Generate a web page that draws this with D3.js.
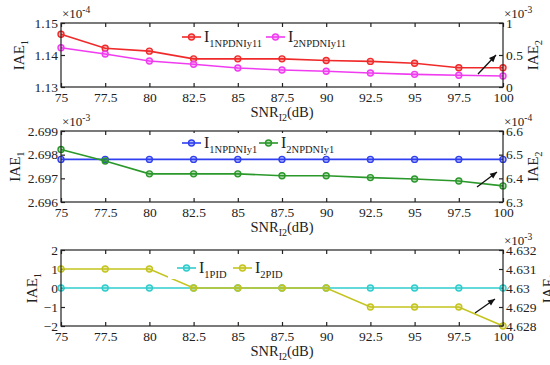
<!DOCTYPE html>
<html>
<head>
<meta charset="utf-8">
<script src="https://cdn.jsdelivr.net/npm/d3@7"></script>
<style>
  html, body { margin: 0; padding: 0; background: #fff; }
  svg { display: block; }
  text { font-family: "Liberation Serif", "Times New Roman", serif; fill: #222; }
</style>
</head>
<body>
<svg id="chart" width="550" height="365"></svg>
<script>
// SNR of the I2 measurement (dB)
const snr = [75, 77.5, 80, 82.5, 85, 87.5, 90, 92.5, 95, 97.5, 100];
const xTickLabels = ["75", "77.5", "80", "82.5", "85", "87.5", "90", "92.5", "95", "97.5", "100"];

// NPDNI controller, y11 loop: IAE1 (x1e-4) and IAE2 (x1e-3)
const iae1NPDNIy11 = [1.1465, 1.1421, 1.1412, 1.1388, 1.1388, 1.1388, 1.1383, 1.1380, 1.1374, 1.1360, 1.1360];
const iae2NPDNIy11 = [0.614, 0.516, 0.406, 0.355, 0.297, 0.266, 0.245, 0.219, 0.198, 0.183, 0.172];
const p1LeftTicks = [1.13, 1.14, 1.15];
const p1RightTicks = [0, 0.5, 1];

// NPDNI controller, y1 loop: IAE1 (x1e-3) and IAE2 (x1e-4)
const iae1NPDNIy1 = [2.6978, 2.6978, 2.6978, 2.6978, 2.6978, 2.6978, 2.6978, 2.6978, 2.6978, 2.6978, 2.6978];
const iae2NPDNIy1 = [6.522, 6.473, 6.419, 6.419, 6.419, 6.411, 6.411, 6.403, 6.397, 6.389, 6.368];
const p2LeftTicks = [2.696, 2.697, 2.698, 2.699];
const p2RightTicks = [6.3, 6.4, 6.5, 6.6];

// PID controller: IAE1 and IAE2 (x1e-3)
const iae1PID = [0, 0, 0, 0, 0, 0, 0, 0, 0, 0, 0];
const iae2PID = [4.631, 4.631, 4.631, 4.630, 4.630, 4.630, 4.630, 4.629, 4.629, 4.629, 4.628];
const p3LeftTicks = [-2, -1, 0, 1, 2];
const p3RightTicks = [4.628, 4.629, 4.630, 4.631, 4.632];
const p3RightLabels = ["4.628", "4.629", "4.63", "4.631", "4.632"];

const svg = d3.select("#chart");
const X0 = 61, X1 = 503;
const x = d3.scaleLinear().domain([75, 100]).range([X0, X1]);

const panels = [
  {
    top: 23, bottom: 87,
    left: { dom: [1.13, 1.15], ticks: p1LeftTicks, fmt: d3.format(".2f"), exp: "-4" },
    right: { dom: [0, 1], ticks: p1RightTicks, labels: ["0", "0.5", "1"], exp: "-3" },
    s1: { vals: iae1NPDNIy11, color: "#f02a2a", sub: "1NPDNIy11" },
    s2: { vals: iae2NPDNIy11, color: "#f03cf0", sub: "2NPDNIy11" },
    leg: { x: 182, y: 37, gap: 84, box: [172, 27, 180, 21] },
    arrow: [[478, 74], [496, 55]],
    y1labelX: 19, y2labelX: 533
  },
  {
    top: 131, bottom: 202,
    left: { dom: [2.696, 2.699], ticks: p2LeftTicks, fmt: d3.format(".3f"), exp: "-3" },
    right: { dom: [6.3, 6.6], ticks: p2RightTicks, labels: ["6.3", "6.4", "6.5", "6.6"], exp: "-4" },
    s1: { vals: iae1NPDNIy1, color: "#3040f0", sub: "1NPDNIy1" },
    s2: { vals: iae2NPDNIy1, color: "#2a982a", sub: "2NPDNIy1" },
    leg: { x: 182, y: 143, gap: 77, box: [172, 133, 172, 20] },
    arrow: [[477, 187], [497, 172]],
    y1labelX: 15, y2labelX: 533
  },
  {
    top: 250, bottom: 326,
    left: { dom: [-2, 2], ticks: p3LeftTicks, fmt: d3.format("d"), exp: null },
    right: { dom: [4.628, 4.632], ticks: p3RightTicks, labels: p3RightLabels, exp: "-3" },
    s1: { vals: iae1PID, color: "#30cccc", sub: "1PID" },
    s2: { vals: iae2PID, color: "#c4c41e", sub: "2PID" },
    leg: { x: 177, y: 268, gap: 56, box: [168, 257, 122, 22] },
    arrow: [[475, 313], [495, 299]],
    y1labelX: 32, y2labelX: 548
  }
];

const TICK = 4;

panels.forEach(p => {
  const g = svg.append("g");
  const yL = d3.scaleLinear().domain(p.left.dom).range([p.bottom, p.top]);
  const yR = d3.scaleLinear().domain(p.right.dom).range([p.bottom, p.top]);

  // bottom axis (inward ticks) and matching top ticks
  const xb = g.append("g").attr("transform", `translate(0,${p.bottom})`)
    .call(d3.axisBottom(x).tickValues(snr).tickFormat((d, i) => xTickLabels[i]).tickSizeInner(-TICK).tickSizeOuter(0).tickPadding(5));
  const xt = g.append("g").attr("transform", `translate(0,${p.top})`)
    .call(d3.axisTop(x).tickValues(snr).tickFormat("").tickSizeInner(-TICK).tickSizeOuter(0));

  const yl = g.append("g").attr("transform", `translate(${X0},0)`)
    .call(d3.axisLeft(yL).tickValues(p.left.ticks).tickFormat(p.left.fmt).tickSizeInner(-TICK).tickSizeOuter(0).tickPadding(3));
  const yr = g.append("g").attr("transform", `translate(${X1},0)`)
    .call(d3.axisRight(yR).tickValues(p.right.ticks).tickFormat((d, i) => p.right.labels[i]).tickSizeInner(-TICK).tickSizeOuter(0).tickPadding(3));

  [xb, xt, yl, yr].forEach(a => {
    a.selectAll(".domain").remove();
    a.selectAll(".tick line").attr("stroke", "#222").attr("stroke-width", 1.2);
    a.selectAll("text").style("font-size", "13.5px").attr("fill", "#222");
  });

  // series lines with open-ish circle markers
  const line1 = d3.line().x((d, i) => x(snr[i])).y(d => yL(d));
  const line2 = d3.line().x((d, i) => x(snr[i])).y(d => yR(d));

  const series = [
    { vals: p.s1.vals, color: p.s1.color, gen: line1, ys: yL },
    { vals: p.s2.vals, color: p.s2.color, gen: line2, ys: yR }
  ];
  series.forEach(s => {
    g.append("path").datum(s.vals).attr("d", s.gen)
      .attr("fill", "none").attr("stroke", s.color).attr("stroke-width", 1.6);
    g.selectAll(null).data(s.vals).enter().append("circle")
      .attr("cx", (d, i) => x(snr[i])).attr("cy", d => s.ys(d)).attr("r", 3)
      .attr("fill", s.color).attr("fill-opacity", 0.35)
      .attr("stroke", s.color).attr("stroke-width", 1.4);
  });

  // legend on a white background
  const L = p.leg;
  g.append("rect").attr("x", L.box[0]).attr("y", L.box[1]).attr("width", L.box[2]).attr("height", L.box[3]).attr("fill", "#fff");
  [p.s1, p.s2].forEach((s, k) => {
    const lx = L.x + k * L.gap;
    g.append("line").attr("x1", lx).attr("x2", lx + 19).attr("y1", L.y).attr("y2", L.y)
      .attr("stroke", s.color).attr("stroke-width", 1.6);
    g.append("circle").attr("cx", lx + 9.5).attr("cy", L.y).attr("r", 3)
      .attr("fill", s.color).attr("fill-opacity", 0.35).attr("stroke", s.color).attr("stroke-width", 1.4);
    const t = g.append("text").attr("x", lx + 22).attr("y", L.y + 5).style("font-size", "16px");
    t.append("tspan").text("I");
    t.append("tspan").attr("dy", 5).style("font-size", "10.5px").text(s.sub);
  });

  // arrow pointing toward the IAE2 axis
  const [a0, a1] = p.arrow;
  g.append("line").attr("x1", a0[0]).attr("y1", a0[1]).attr("x2", a1[0]).attr("y2", a1[1])
    .attr("stroke", "#111").attr("stroke-width", 1.3);
  const ang = Math.atan2(a1[1] - a0[1], a1[0] - a0[0]);
  const hl = 7, hw = 3;
  const hx = a1[0] - hl * Math.cos(ang), hy = a1[1] - hl * Math.sin(ang);
  g.append("path")
    .attr("d", `M${a1[0]},${a1[1]} L${hx + hw * Math.sin(ang)},${hy - hw * Math.cos(ang)} L${hx - hw * Math.sin(ang)},${hy + hw * Math.cos(ang)} Z`)
    .attr("fill", "#111");

  // frame
  g.append("rect").attr("x", X0).attr("y", p.top).attr("width", X1 - X0).attr("height", p.bottom - p.top)
    .attr("fill", "none").attr("stroke", "#222").attr("stroke-width", 1.2);

  // exponent multipliers
  const expLabel = (xx, e) => {
    const t = g.append("text").attr("x", xx).attr("y", p.top - 5).style("font-size", "13px");
    t.append("tspan").text("\u00d710");
    t.append("tspan").attr("dy", -5).style("font-size", "9.5px").text(e);
  };
  if (p.left.exp) expLabel(X0 + 1, p.left.exp);
  if (p.right.exp) expLabel(X1 + 1, p.right.exp);

  // x-axis title
  const xt2 = g.append("text").attr("x", (X0 + X1) / 2).attr("y", p.bottom + 30)
    .attr("text-anchor", "middle").style("font-size", "14.5px");
  xt2.append("tspan").text("SNR");
  xt2.append("tspan").attr("dy", 4).style("font-size", "10px").text("I2");
  xt2.append("tspan").attr("dy", -4).text("(dB)");

  // y-axis titles
  const ym = (p.top + p.bottom) / 2;
  const yt1 = g.append("text").attr("transform", `translate(${p.y1labelX + 5},${ym}) rotate(-90)`)
    .attr("text-anchor", "middle").style("font-size", "15px");
  yt1.append("tspan").text("IAE");
  yt1.append("tspan").attr("dy", 4).style("font-size", "10.5px").text("1");
  const yt2 = g.append("text").attr("transform", `translate(${p.y2labelX + 5},${ym}) rotate(-90)`)
    .attr("text-anchor", "middle").style("font-size", "15px");
  yt2.append("tspan").text("IAE");
  yt2.append("tspan").attr("dy", 4).style("font-size", "10.5px").text("2");
});
</script>
</body>
</html>
